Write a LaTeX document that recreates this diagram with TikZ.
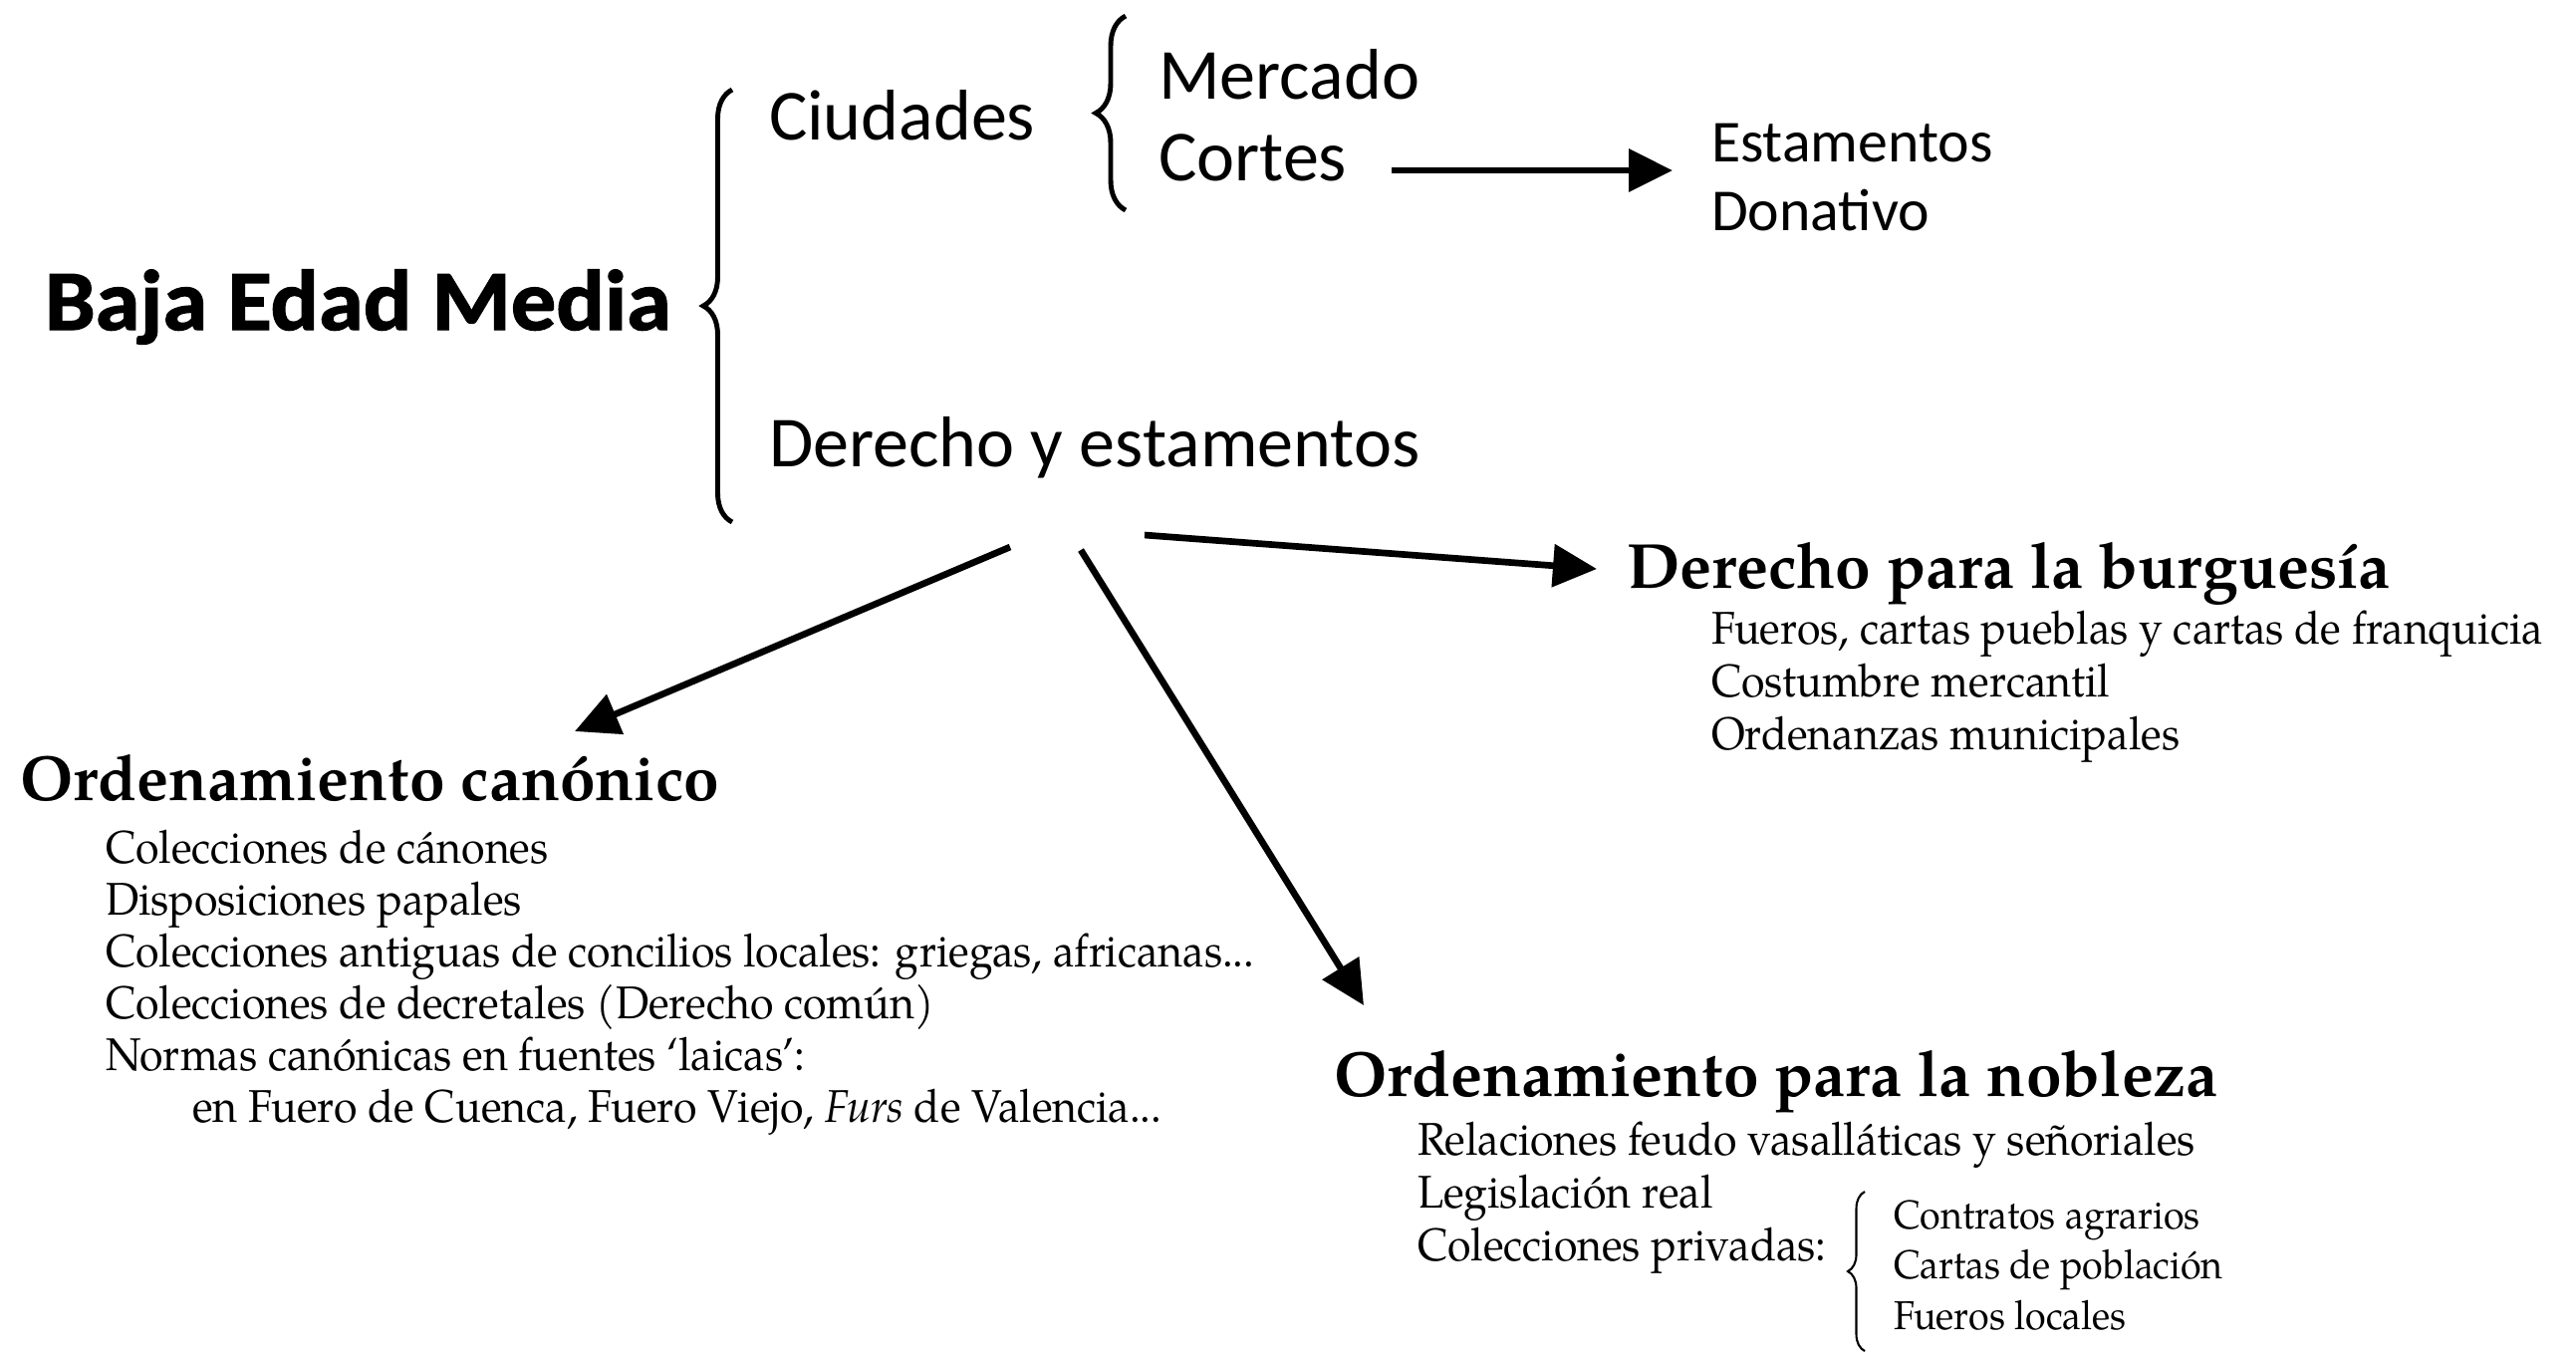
\documentclass[tikz,border=0pt]{standalone}
\usepackage{fontspec}
\setmainfont{TeX Gyre Pagella}
\setsansfont{Carlito}
\newfontfamily\itemfont{TeX Gyre Pagella}[FakeStretch=0.93]
\newfontfamily\heavyfont{Carlito Bold}[FakeBold=1.5, FakeStretch=1.05]
\usetikzlibrary{arrows.meta}
\usetikzlibrary{decorations.pathreplacing}
\usetikzlibrary{positioning}
\tikzset{every node/.style = {inner sep=0pt, outer sep=0pt, anchor=base west},
         title/.style = {font=\heavyfont\fontsize{24.5}{28}\selectfont},
         lead/.style = {font=\sffamily\fontsize{20.5}{24}\selectfont},
         note/.style = {font=\sffamily\fontsize{17}{20}\selectfont},
         head/.style = {font=\bfseries\fontsize{18.2}{21}\selectfont},
         item/.style = {font=\itemfont\fontsize{13.1}{15}\selectfont},
         subitem/.style = {font=\itemfont\fontsize{11.5}{14}\selectfont},
         fat/.style = {line width=1.9pt, -{Triangle[length=0.44cm, width=0.42cm]}},
         bigbrace/.style = {line width=1.4pt, decorate,
                            decoration={brace, amplitude=0.29cm}}}

\begin{document}
\begin{tikzpicture}[x=0.01cm, y=-0.01cm]
    \useasboundingbox (0,0) rectangle (2586,1359);

    % upper part
    \node [title] (baja) at (45,331) {Baja Edad Media};
    \draw [bigbrace] (735,524) -- (735,90);
    \node [lead] (ciud) at (772,140) {Ciudades};
    \node [lead] (derest) at (772,468) {Derecho y estamentos};
    \draw [bigbrace, decoration={amplitude=0.3cm}] (1130,211) -- (1130,16);
    \node [lead] (merc) at (1163,99) {Mercado};
    \node [lead] (cort) at (1163,181) {Cortes};
    \node [note] (estam) at (1718,162) {Estamentos};
    \node [note] (donat) at (1718,231) {Donativo};
    \draw [fat] ([shift={(45,-10)}]cort.base east) -- ([shift={(-39,9)}]estam.base west);

    % three branches
    \node [head] (burg) at (1633,590) {Derecho para la burguesía};
    \node [head] (canon) at (20,803) {Ordenamiento canónico};
    \node [head] (nobl) at (1339,1100) {Ordenamiento para la nobleza};
    \draw [fat] ([shift={(242,81)}]derest.base west) -- ([shift={(557,-69)}]canon.base west);
    \draw [fat] ([shift={(313,84)}]derest.base west) -- ([shift={(30,-91)}]nobl.base west);
    \draw [fat] ([shift={(377,69)}]derest.base west) -- ([shift={(-30,-19)}]burg.base west);

    \foreach \txt [count=\i from 0] in {{Fueros, cartas pueblas y cartas de franquicia},
                                        Costumbre mercantil, Ordenanzas municipales}
      \node [item] (burg\i) at (1718,{646+53*\i}) {\txt};

    \foreach \txt [count=\i from 0] in {Colecciones de cánones, Disposiciones papales,
                                        {Colecciones antiguas de concilios locales: griegas, africanas{...}},
                                        Colecciones de decretales (Derecho común),
                                        Normas canónicas en fuentes ‘laicas’:}
      \node [item] (canon\i) at (106,{866+52*\i}) {\txt};
    \node [item] (canon5) at (193,1126) {en Fuero de Cuenca, Fuero Viejo, \textit{Furs} de Valencia...};

    \foreach \txt [count=\i from 0] in {Relaciones feudo vasalláticas y señoriales,
                                        Legislación real, Colecciones privadas:}
      \node [item] (nobl\i) at (1423,{1159+53*\i}) {\txt};
    \draw [bigbrace, line width=0.6pt, decoration={amplitude=0.17cm}] (1872,1356) -- (1872,1196);
    \foreach \txt [count=\i from 0] in {Contratos agrarios, Cartas de población, Fueros locales}
      \node [subitem] (priv\i) at (1901,{1233+50.5*\i}) {\txt};
\end{tikzpicture}
\end{document}
